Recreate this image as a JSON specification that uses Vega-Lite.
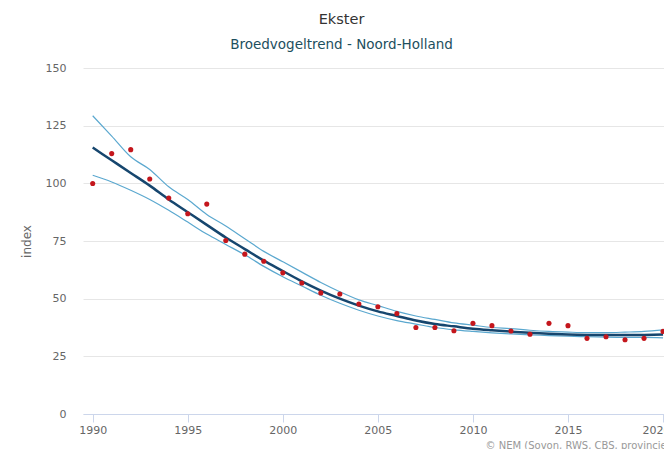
{
  "$schema": "https://vega.github.io/schema/vega-lite/v6.json",
  "autosize": {"type": "none"},
  "padding": {"left": 83, "top": 68, "right": 0, "bottom": 35},
  "width": 581,
  "height": 346,
  "background": "#ffffff",
  "title": {
    "text": "Ekster",
    "subtitle": "Broedvogeltrend - Noord-Holland",
    "anchor": "middle",
    "dx": -32,
    "offset": 10,
    "font": "DejaVu Sans",
    "fontSize": 14.5,
    "fontWeight": "normal",
    "color": "#333333",
    "subtitleFont": "DejaVu Sans",
    "subtitleFontSize": 13.5,
    "subtitleColor": "#1d4f5e",
    "subtitlePadding": 10
  },
  "config": {
    "view": {"stroke": null},
    "axis": {"labelFont": "DejaVu Sans", "titleFont": "DejaVu Sans", "labelColor": "#666666", "labelFontSize": 11}
  },
  "data": {
    "values": [
      {"year": 1990, "index": 99.9, "trend": 115.5, "upper": 129.3, "lower": 103.5},
      {"year": 1991, "index": 112.9, "trend": 110.0, "upper": 120.5, "lower": 100.6},
      {"year": 1992, "index": 114.6, "trend": 104.5, "upper": 111.5, "lower": 97.0},
      {"year": 1993, "index": 101.9, "trend": 99.0, "upper": 106.0, "lower": 93.0},
      {"year": 1994, "index": 93.6, "trend": 93.0, "upper": 98.5, "lower": 88.3},
      {"year": 1995, "index": 86.8, "trend": 87.5, "upper": 93.0, "lower": 83.2},
      {"year": 1996, "index": 91.0, "trend": 82.0, "upper": 86.5, "lower": 78.0},
      {"year": 1997, "index": 75.2, "trend": 76.5, "upper": 81.5, "lower": 73.5},
      {"year": 1998, "index": 69.3, "trend": 71.5, "upper": 76.0, "lower": 69.0},
      {"year": 1999, "index": 66.2, "trend": 66.5, "upper": 70.5, "lower": 64.0},
      {"year": 2000, "index": 61.2, "trend": 62.0, "upper": 66.0, "lower": 59.5},
      {"year": 2001, "index": 56.8, "trend": 57.5, "upper": 61.5, "lower": 55.5},
      {"year": 2002, "index": 52.5, "trend": 53.5, "upper": 57.0, "lower": 51.5},
      {"year": 2003, "index": 52.0, "trend": 50.0, "upper": 53.0, "lower": 48.0},
      {"year": 2004, "index": 47.7, "trend": 47.0, "upper": 49.5, "lower": 45.0},
      {"year": 2005, "index": 46.5, "trend": 44.5, "upper": 47.0, "lower": 42.5},
      {"year": 2006, "index": 43.6, "trend": 42.5, "upper": 44.5, "lower": 40.5},
      {"year": 2007, "index": 37.5, "trend": 40.5, "upper": 42.5, "lower": 39.0},
      {"year": 2008, "index": 37.5, "trend": 39.0, "upper": 41.0, "lower": 37.5},
      {"year": 2009, "index": 36.1, "trend": 38.0, "upper": 39.5, "lower": 36.5},
      {"year": 2010, "index": 39.3, "trend": 37.0, "upper": 38.5, "lower": 35.8},
      {"year": 2011, "index": 38.3, "trend": 36.3, "upper": 37.5, "lower": 35.2},
      {"year": 2012, "index": 36.0, "trend": 35.7, "upper": 37.0, "lower": 34.7},
      {"year": 2013, "index": 34.6, "trend": 35.2, "upper": 36.3, "lower": 34.3},
      {"year": 2014, "index": 39.3, "trend": 34.8, "upper": 35.8, "lower": 34.0},
      {"year": 2015, "index": 38.3, "trend": 34.5, "upper": 35.5, "lower": 33.7},
      {"year": 2016, "index": 32.8, "trend": 34.3, "upper": 35.3, "lower": 33.5},
      {"year": 2017, "index": 33.5, "trend": 34.2, "upper": 35.3, "lower": 33.3},
      {"year": 2018, "index": 32.2, "trend": 34.2, "upper": 35.5, "lower": 33.2},
      {"year": 2019, "index": 32.8, "trend": 34.3, "upper": 35.8, "lower": 33.2},
      {"year": 2020, "index": 35.8, "trend": 34.5, "upper": 36.5, "lower": 33.0}
    ]
  },
  "encoding": {
    "x": {
      "field": "year",
      "type": "quantitative",
      "scale": {"domain": [1989.49, 2020.05], "nice": false, "zero": false},
      "axis": {
        "values": [1990, 1995, 2000, 2005, 2010, 2015, 2020],
        "format": "d",
        "grid": false,
        "domainColor": "#ccd6eb",
        "tickColor": "#ccd6eb",
        "tickSize": 8,
        "labelPadding": 2,
        "labelFlush": 2,
        "labelFlushOffset": 7,
        "title": "© NEM (Sovon, RWS, CBS, provincies)",
        "titleFontSize": 10,
        "titleFontWeight": "normal",
        "titleColor": "#999999",
        "titleAnchor": "start",
        "titleAlign": "left",
        "titleBaseline": "alphabetic",
        "titleX": 402,
        "titleY": 34
      }
    }
  },
  "layer": [
    {
      "mark": {"type": "line", "color": "#5ba8cf", "strokeWidth": 1.2, "interpolate": "monotone"},
      "encoding": {
        "y": {
          "field": "upper",
          "type": "quantitative",
          "scale": {"domain": [0, 150], "nice": false},
          "axis": {
            "values": [0, 25, 50, 75, 100, 125, 150],
            "title": "index",
            "titleFontSize": 12,
            "titleFontWeight": "normal",
            "titleColor": "#666666",
            "titlePadding": 12,
            "gridColor": "#e6e6e6",
            "domain": false,
            "ticks": false,
            "labelPadding": 17
          }
        }
      }
    },
    {
      "mark": {"type": "line", "color": "#5ba8cf", "strokeWidth": 1.2, "interpolate": "monotone"},
      "encoding": {"y": {"field": "lower", "type": "quantitative"}}
    },
    {
      "mark": {"type": "line", "color": "#16466e", "strokeWidth": 2.5, "interpolate": "monotone"},
      "encoding": {"y": {"field": "trend", "type": "quantitative"}}
    },
    {
      "mark": {"type": "point", "filled": true, "color": "#c4161c", "opacity": 1, "size": 26},
      "encoding": {"y": {"field": "index", "type": "quantitative"}}
    }
  ]
}
